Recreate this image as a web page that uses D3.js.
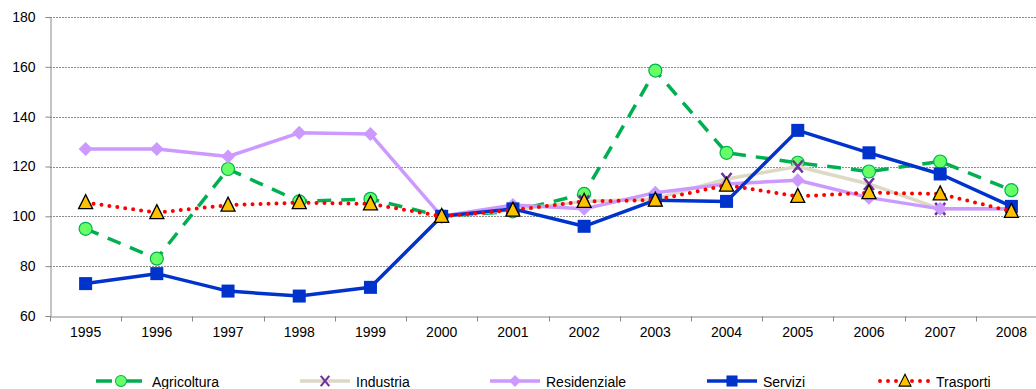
<!DOCTYPE html>
<html>
<head>
<meta charset="utf-8">
<script src="https://cdn.jsdelivr.net/npm/d3@7"></script>
<style>
  body { margin: 0; background: #fff; }
  text { font-family: "Liberation Sans", Arial, sans-serif; }
</style>
</head>
<body>
<div id="chart"></div>
<script>
// data
const years = ["1995","1996","1997","1998","1999","2000","2001","2002","2003","2004","2005","2006","2007","2008"];
const agricoltura = [95, 83, 119, 106, 107, 100, 102, 109, 158.5, 125.5, 121.5, 118, 122, 110.5];
const industria = [null, null, null, null, null, 100, 102.5, 106, 107, 115, 120, 113, 103, 103];
const residenziale = [127, 127, 124, 133.5, 133, 100, 104.5, 103, 109.5, 113, 114.5, 107.5, 103, 103];
const servizi = [73, 77, 70, 68, 71.5, 100, 103, 96, 106.5, 106, 134.5, 125.5, 117, 104];
const trasporti = [105.5, 101.5, 104.5, 105.5, 105, 100, 102.5, 106, 106.5, 112.5, 108, 109.5, 109, 102];
const yTicks = [60, 80, 100, 120, 140, 160, 180];

const W = 1036, H = 389;
const margin = {top: 17, left: 50};
const plotW = 997, plotH = 299;

const svg = d3.select("#chart").append("svg")
    .attr("width", W).attr("height", H);

const x = d3.scaleBand().domain(years).range([margin.left, margin.left + plotW]);
const y = d3.scaleLinear().domain([60, 180]).range([margin.top + plotH, margin.top]);

// gridlines
svg.append("g").selectAll("line")
    .data(yTicks.slice(1))
    .enter().append("line")
    .attr("x1", margin.left).attr("x2", margin.left + plotW)
    .attr("y1", d => Math.round(y(d)) + 0.5).attr("y2", d => Math.round(y(d)) + 0.5)
    .attr("stroke", "#8c8c8c").attr("stroke-width", 1)
    .attr("stroke-dasharray", "2,1");

// y axis
const yAxis = svg.append("g")
    .attr("transform", "translate(" + (margin.left + 0.5) + ",0)")
    .call(d3.axisLeft(y).tickValues(yTicks).tickSize(5).tickPadding(10));
yAxis.select(".domain").attr("stroke", "#888");
yAxis.selectAll(".tick line").attr("stroke", "#888");
yAxis.selectAll("text").attr("font-size", 14).attr("fill", "#000")
    .attr("font-family", "Liberation Sans, Arial, sans-serif");

// x axis
const xAxis = svg.append("g")
    .attr("transform", "translate(0," + (Math.round(y(60)) + 0.5) + ")")
    .call(d3.axisBottom(x).tickSize(0).tickPadding(11));
xAxis.select(".domain").attr("stroke", "#888");
xAxis.selectAll("text").attr("font-size", 14).attr("fill", "#000")
    .attr("font-family", "Liberation Sans, Arial, sans-serif");
xAxis.selectAll(".bt")
    .data(years.concat(["end"]))
    .enter().append("line")
    .attr("x1", (d, i) => Math.round(margin.left + i * x.bandwidth()) + 0.5)
    .attr("x2", (d, i) => Math.round(margin.left + i * x.bandwidth()) + 0.5)
    .attr("y1", 0).attr("y2", 5)
    .attr("stroke", "#888");

const cx = d => x(d) + x.bandwidth() / 2;

const series = [
  {name: "Agricoltura", values: agricoltura, color: "#00B050", dash: "14,10", cap: "butt", marker: "circle", fill: "#66FF66", mstroke: "#00B050", w: 3.5},
  {name: "Industria", values: industria, color: "#DDD9C4", dash: null, cap: "butt", marker: "x", fill: "none", mstroke: "#7030A0", w: 3.5},
  {name: "Residenziale", values: residenziale, color: "#CC99FF", dash: null, cap: "butt", marker: "diamond", fill: "#CC99FF", mstroke: "#CC99FF", w: 3.5},
  {name: "Servizi", values: servizi, color: "#0033CC", dash: null, cap: "butt", marker: "square", fill: "#0033CC", mstroke: "#0033CC", w: 3.5},
  {name: "Trasporti", values: trasporti, color: "#FF0000", dash: "0,8", cap: "round", marker: "triangle", fill: "#FFC000", mstroke: "#000", w: 4}
];

const line = d3.line()
    .defined(d => d.v != null)
    .x(d => cx(d.year))
    .y(d => y(d.v));

function drawMarker(g, type, s) {
  if (type === "circle") {
    g.append("circle").attr("r", 6.5).attr("fill", s.fill).attr("stroke", s.mstroke).attr("stroke-width", 1.2);
  } else if (type === "square") {
    g.append("rect").attr("x", -6.5).attr("y", -6.5).attr("width", 13).attr("height", 13).attr("fill", s.fill);
  } else if (type === "diamond") {
    g.append("path").attr("d", "M0,-7L7,0L0,7L-7,0Z").attr("fill", s.fill);
  } else if (type === "triangle") {
    g.append("path").attr("d", "M0,-8L7,6L-7,6Z").attr("fill", s.fill).attr("stroke", s.mstroke).attr("stroke-width", 1.3);
  } else if (type === "x") {
    g.append("path").attr("d", "M-5,-6L5,6M5,-6L-5,6").attr("stroke", s.mstroke).attr("stroke-width", 2.5).attr("fill", "none");
  }
}

series.forEach(s => {
  const pts = years.map((yr, i) => ({year: yr, v: s.values[i]}));
  svg.append("path")
      .datum(pts)
      .attr("d", line)
      .attr("fill", "none")
      .attr("stroke", s.color)
      .attr("stroke-width", s.w)
      .attr("stroke-linecap", s.cap)
      .attr("stroke-linejoin", "round")
      .attr("stroke-dasharray", s.dash);
  pts.filter(d => d.v != null).forEach(d => {
    const g = svg.append("g").attr("transform", "translate(" + cx(d.year) + "," + y(d.v) + ")");
    drawMarker(g, s.marker, s);
  });
});

// legend
const legendX = [96, 300, 490, 707, 880];
const legendY = 381;
series.forEach((s, i) => {
  const g = svg.append("g").attr("transform", "translate(" + legendX[i] + "," + legendY + ")");
  g.append("line").attr("x1", 0).attr("x2", 50).attr("y1", 0).attr("y2", 0)
      .attr("stroke", s.color).attr("stroke-width", s.w)
      .attr("stroke-linecap", s.cap)
      .attr("stroke-dasharray", s.name === "Agricoltura" ? "16,14" : s.dash);
  const m = g.append("g").attr("transform", "translate(25,0) scale(0.85)");
  drawMarker(m, s.marker, s);
  g.append("text").attr("x", 56).attr("y", 6).attr("font-size", 14).text(s.name);
});
</script>
</body>
</html>
